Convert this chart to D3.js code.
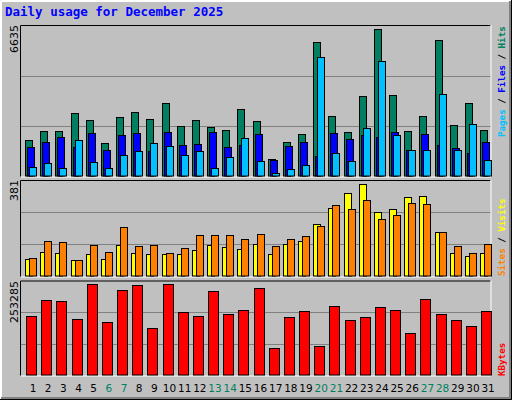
<!DOCTYPE html><html><head><meta charset="utf-8">
<script src="https://cdn.jsdelivr.net/npm/d3@7"></script>
<style>body{margin:0;background:#fff}svg{display:block}</style></head><body>
<svg id="c" width="512" height="400"></svg>
<script>
const days = d3.range(1,32);
const weekend = [6,7,13,14,20,21,27,28];
const hits  = [1589,1983,1983,2770,2464,1458,2595,2814,2508,3208,2202,2464,2158,2027,2945,2420,758,1502,1852,5876,2639,1939,3514,6444,3558,1983,2639,5963,2245,3208,2027];
const files = [1283,1502,1720,1283,1895,1152,1808,1895,1108,1939,1371,1414,1939,1283,1371,1852,714,1327,1502,889,1895,1633,1808,1720,1939,1152,1852,1371,1239,1021,1502];
const pages = [408,583,365,1589,627,365,933,1108,1458,1327,933,1108,365,846,1677,671,146,321,496,5220,1021,671,2114,5045,1808,1152,1152,3601,1152,2289,714];
const visits= [68,96,92,64,88,68,124,92,88,88,88,104,124,116,108,127,88,127,139,206,269,329,364,254,265,313,317,175,92,80,92];
const sites = [72,139,135,64,124,96,194,120,124,92,112,163,163,163,147,167,120,147,159,198,281,265,301,226,242,289,285,175,120,92,127];
const kbytes= [158200,200800,198200,150200,243500,142200,227500,240800,126200,243500,168900,158200,224800,163500,174200,232800,72900,155500,171500,78200,184900,147500,155500,182200,174200,112900,203500,163500,147500,131500,171500];
const maxHits=6635, maxVisits=381, maxKB=253285;

const svg=d3.select("#c");
const font="DejaVu Sans Mono, monospace";
svg.append("rect").attr("width",512).attr("height",400).attr("fill","#c0c0c0");
// 3D outer frame
svg.append("path").attr("d","M0.5,399.5V0.5H511.5").attr("stroke","#fff").attr("fill","none");
svg.append("path").attr("d","M1.5,398.5V1.5H510").attr("stroke","#fff").attr("fill","none");
svg.append("path").attr("d","M1,398.5H510.5V1").attr("stroke","#808080").attr("stroke-width",3).attr("fill","none");
svg.append("path").attr("d","M0,399.5H511.5V0").attr("stroke","#000").attr("fill","none");

svg.append("text").attr("x",5).attr("y",16).attr("font-family",font).attr("font-weight","bold")
  .attr("font-size",12.5).attr("fill","#0000ff").text("Daily usage for December 2025");

const x=d3.scaleLinear().domain([1,32]).range([25,25+15.17*31]);
const L=20,R=490.5;
function panel(top,bot){
  svg.append("path").attr("d",`M${L+.5},${bot}V${top+.5}H${R}`).attr("stroke","#000").attr("fill","none");
  svg.append("path").attr("d",`M${L+1},${bot+.5}H${R+.5}V${top}`).attr("stroke","#fff").attr("fill","none");
  const h=bot-top;
  [1,2].forEach(i=>svg.append("line").attr("x1",L+1).attr("x2",R).attr("y1",Math.round(top+h*i/3)+.5).attr("y2",Math.round(top+h*i/3)+.5).attr("stroke","#808080"));
}
function bars(data,y,off,w,color){
  svg.append("g").selectAll("rect").data(data).join("rect")
    .attr("x",(d,i)=>Math.round(x(i+1))+off+.5).attr("width",w)
    .attr("y",d=>Math.round(y(d))+.5).attr("height",d=>y.range()[0]-Math.round(y(d))-.5)
    .attr("fill",color).attr("stroke","#000");
}
function leftLabel(t,yTop){
  svg.append("text").attr("transform",`translate(18,${yTop}) rotate(-90)`).attr("text-anchor","end")
    .attr("font-family","DejaVu Sans, sans-serif").attr("font-size",11).attr("fill","#000").text(t);
}
function rightLabel(parts,yBot){
  const t=svg.append("text").attr("transform",`translate(505,${yBot}) rotate(-90)`)
    .attr("font-family",font).attr("font-weight","bold").attr("font-size",9.2);
  parts.forEach(p=>t.append("tspan").attr("fill",p[1]).text(p[0]));
}
// top panel
panel(25,176.5);
const y1=d3.scaleLinear().domain([0,maxHits]).range([176,25]);
bars(hits,y1,0,7,"#008060");
bars(files,y1,2,7,"#0000ff");
bars(pages,y1,4,7,"#00c0ff");
leftLabel(String(maxHits),25);
rightLabel([["Pages","#00c0ff"],[" / ","#000"],["Files","#0000ff"],[" / ","#000"],["Hits","#008060"]],137);
// middle
panel(180,276.5);
const y2=d3.scaleLinear().domain([0,maxVisits]).range([276,180]);
bars(visits,y2,0,7,"#ffff00");
bars(sites,y2,4,7,"#ff8000");
leftLabel(String(maxVisits),180);
rightLabel([["Sites","#ff8000"],[" / ","#000"],["Visits","#ffff00"]],276);
// bottom
panel(280.5,375.5);
const y3=d3.scaleLinear().domain([0,maxKB]).range([375,280.5]);
bars(kbytes,y3,1,10,"#ff0000");
leftLabel(String(maxKB),281);
rightLabel([["KBytes","#ff0000"]],376);
// day labels
svg.append("g").selectAll("text").data(days).join("text")
  .attr("x",d=>x(d)+8).attr("y",392).attr("text-anchor","middle")
  .attr("font-family","DejaVu Sans, sans-serif").attr("font-size",10.5)
  .attr("fill",d=>weekend.includes(d)?"#008060":"#000").text(d=>d);
</script></body></html>
